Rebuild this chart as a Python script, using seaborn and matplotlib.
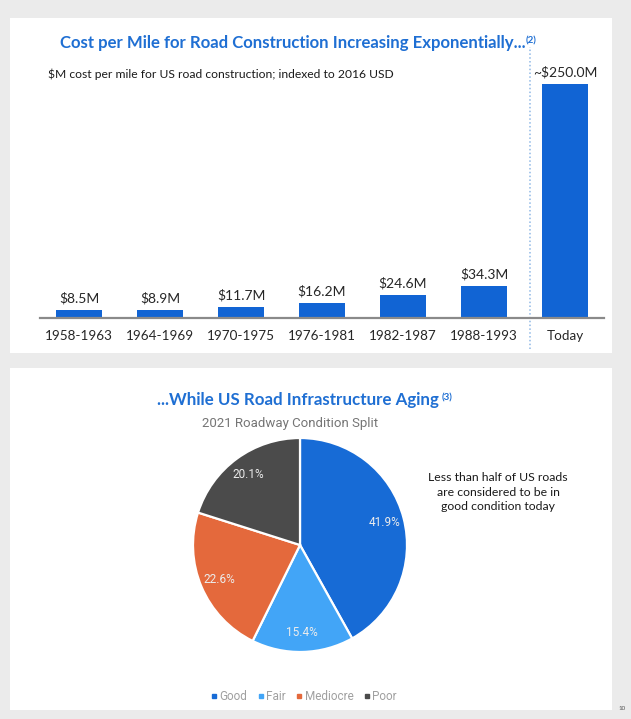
import matplotlib
matplotlib.use("Agg")
import matplotlib.pyplot as plt
from matplotlib.patches import Rectangle
from matplotlib.lines import Line2D
import seaborn as sns
import pandas as pd

# ---- data ----
periods = ["1958-1963", "1964-1969", "1970-1975", "1976-1981", "1982-1987", "1988-1993", "Today"]
cost_musd = [8.5, 8.9, 11.7, 16.2, 24.6, 34.3, 250.0]
cost_labels = ["$8.5M", "$8.9M", "$11.7M", "$16.2M", "$24.6M", "$34.3M", "~$250.0M"]

conditions = ["Good", "Fair", "Mediocre", "Poor"]
condition_share = [41.9, 15.4, 22.6, 20.1]

# ---- style ----
W, H = 631, 719
BG = "#ebebeb"
TITLE_BLUE = "#1f6fd3"
BAR_BLUE = "#1164d4"
PIE_COLORS = ["#176bd6", "#42a5f7", "#e4693c", "#4b4b4b"]
SLIDE_FONT = ["Lato", "DejaVu Sans"]
CHART_FONT = ["Roboto", "DejaVu Sans"]

sns.set_theme(style="white")
plt.rcParams["font.family"] = SLIDE_FONT


def px_rect(x0, y0, x1, y1):
    """Pixel box (top-left origin) -> figure-fraction [l, b, w, h]."""
    return [x0 / W, 1 - y1 / H, (x1 - x0) / W, (y1 - y0) / H]


fig = plt.figure(figsize=(W / 100, H / 100), dpi=100, facecolor=BG)

# white slide panels, kept behind the axes
for box in [(10, 18, 612, 353), (10, 368, 612, 710)]:
    l, b, w, h = px_rect(*box)
    fig.patches.append(Rectangle((l, b), w, h, transform=fig.transFigure,
                                 facecolor="white", edgecolor="none", zorder=-5))

# ---- bar chart ----
base_px, top_px, peak_px = 318, 60, 84
ax1 = fig.add_axes(px_rect(40, top_px, 604, base_px))
ax1.set_facecolor("none")
df = pd.DataFrame({"period": periods, "cost": cost_musd})
sns.barplot(data=df, x="period", y="cost", color=BAR_BLUE, saturation=1,
            width=0.56, ax=ax1, edgecolor="none")
ax1.set_ylim(0, max(cost_musd) * (base_px - top_px) / (base_px - peak_px))
ax1.set_xlim((40 - 79) / 81, (604 - 79) / 81)
for s in ["top", "right", "left"]:
    ax1.spines[s].set_visible(False)
ax1.spines["bottom"].set_color("#8a8a8a")
ax1.spines["bottom"].set_linewidth(1.6)
ax1.set_xlabel("")
ax1.set_ylabel("")
ax1.set_yticks([])
ax1.tick_params(axis="x", length=0, pad=9, labelsize=9.7, labelcolor="#262626")

for i, (v, lab) in enumerate(zip(cost_musd, cost_labels)):
    ax1.annotate(lab, (i, v), xytext=(0, 4), textcoords="offset points",
                 ha="center", va="bottom", fontsize=10.0, color="#262626",
                 parse_math=False)

# dotted separator before "Today"
ax1.axvline(5.57, ymin=-0.12, ymax=1.05, color="#8fb8e6", linestyle=(0, (1, 1.5)),
            linewidth=1.1, clip_on=False)

fig.text(48 / W, 1 - 74 / H, "$M cost per mile for US road construction; indexed to 2016 USD",
         fontsize=8.75, color="#1a1a1a", va="center", ha="left", parse_math=False)

# ---- pie chart ----
cx, cy, r = 300, 545, 107
ax2 = fig.add_axes(px_rect(cx - r, cy - r, cx + r, cy + r))
wedges, _, autotexts = ax2.pie(
    condition_share, colors=PIE_COLORS, startangle=90, counterclock=False,
    autopct="%1.1f%%", pctdistance=0.82, radius=1,
    wedgeprops=dict(edgecolor="white", linewidth=1.6),
    textprops=dict(color="#ececec", fontsize=8.5, family=CHART_FONT))
ax2.set_xlim(-1, 1)
ax2.set_ylim(-1, 1)
ax2.set_aspect("equal")
ax2.axis("off")

fig.text(290 / W, 1 - 424 / H, "2021 Roadway Condition Split", fontsize=9.5,
         color="#757575", ha="center", va="center", family=CHART_FONT)

fig.text(498 / W, 1 - 492 / H,
         "Less than half of US roads\nare considered to be in\ngood condition today",
         fontsize=8.8, color="#1a1a1a", ha="center", va="center", linespacing=1.4)

handles = [Line2D([], [], marker="s", linestyle="none", markersize=3.2,
                  markerfacecolor=c, markeredgecolor=c) for c in PIE_COLORS]
fig.legend(handles, conditions, loc="center", bbox_to_anchor=(303 / W, 1 - 697 / H),
           ncol=4, frameon=False, handletextpad=0.05, columnspacing=0.75,
           handlelength=0.8, prop=dict(family=CHART_FONT, size=8.5),
           labelcolor="#a0a0a0")

# ---- slide titles with superscript footnote marks ----
t1 = fig.text(60 / W, 1 - 43 / H, "Cost per Mile for Road Construction Increasing Exponentially...",
              fontsize=12.1, fontweight="bold", color=TITLE_BLUE, ha="left", va="center")
t2 = fig.text(157 / W, 1 - 400 / H, "...While US Road Infrastructure Aging",
              fontsize=12.2, fontweight="bold", color=TITLE_BLUE, ha="left", va="center")

fig.canvas.draw()
renderer = fig.canvas.get_renderer()
for t, mark, gap in [(t1, "(2)", 0.5), (t2, "(3)", 3)]:
    bb = t.get_window_extent(renderer).transformed(fig.transFigure.inverted())
    fig.text(bb.x1 + gap / W, bb.y1 - 1 / H, mark, fontsize=7, fontweight="bold",
             color=TITLE_BLUE, ha="left", va="top")

fig.text(622 / W, 1 - 708 / H, "10", fontsize=4.5, color="#555555", ha="center", va="center")

fig.savefig("out.png", dpi=100, facecolor=BG)
